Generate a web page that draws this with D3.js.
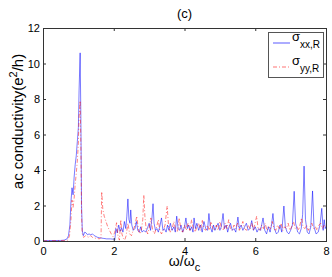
<!DOCTYPE html>
<html>
<head>
<meta charset="utf-8">
<script src="https://cdn.jsdelivr.net/npm/d3@7"></script>
<style>
body { margin: 0; background: #fff; }
svg { display: block; font-family: "Liberation Sans", Arial, sans-serif; }
.axis text { font-size: 11px; fill: #000; }
.axis line { stroke: #333; }
</style>
</head>
<body>
<div class="chart"></div>
<script>
// sigma_xx,R (blue, solid)
const omegaXX = [0, 0.5, 0.6, 0.68, 0.72, 0.76, 0.79, 0.82, 0.85, 0.88, 0.91, 0.94, 0.97, 1.0, 1.02, 1.05, 1.07, 1.09, 1.11, 1.14,
	1.18, 1.22, 1.26, 1.3, 1.35, 1.4, 1.45, 1.5, 1.55, 1.6, 1.7, 1.8, 1.9, 2.0, 2.03, 2.06, 2.1, 2.14, 2.18, 2.22,
	2.26, 2.3, 2.34, 2.37, 2.4, 2.43, 2.46, 2.48, 2.51, 2.55, 2.6, 2.64, 2.68, 2.72, 2.76, 2.8, 2.85, 2.9, 2.95, 3.0,
	3.04, 3.08, 3.11, 3.14, 3.18, 3.22, 3.26, 3.3, 3.35, 3.39, 3.43, 3.48, 3.52, 3.56, 3.6, 3.65, 3.7, 3.74, 3.78, 3.82,
	3.86, 3.9, 3.95, 4.0, 4.04, 4.08, 4.12, 4.16, 4.2, 4.24, 4.27, 4.31, 4.35, 4.4, 4.45, 4.5, 4.55, 4.6, 4.65, 4.69,
	4.73, 4.78, 4.82, 4.86, 4.9, 4.95, 5.0, 5.04, 5.09, 5.13, 5.18, 5.22, 5.26, 5.3, 5.35, 5.4, 5.45, 5.51, 5.55, 5.6,
	5.65, 5.7, 5.75, 5.8, 5.85, 5.9, 5.95, 6.0, 6.05, 6.1, 6.15, 6.22, 6.27, 6.32, 6.37, 6.42, 6.46, 6.5, 6.54, 6.6,
	6.65, 6.7, 6.75, 6.81, 6.85, 6.9, 6.95, 7.0, 7.05, 7.1, 7.14, 7.2, 7.25, 7.3, 7.34, 7.38, 7.42, 7.47, 7.52, 7.57,
	7.62, 7.66, 7.72, 7.78, 7.83, 7.88, 7.92, 7.95, 7.98, 8.0];
const sigmaXX = [0.02, 0.03, 0.05, 0.12, 0.3, 0.9, 2.2, 3.0, 2.6, 3.6, 4.3, 4.8, 5.6, 6.4, 8.5, 10.6, 7.0, 2.0, 0.6, 0.3,
	0.5, 0.45, 0.35, 0.4, 0.35, 0.4, 0.3, 0.25, 0.2, 0.18, 0.15, 0.12, 0.12, 0.1, 0.05, 0.7, 0.45, 0.9, 0.55, 0.75,
	0.5, 1.1, 0.7, 1.4, 2.37, 1.2, 1.0, 1.75, 0.9, 0.6, 0.7, 1.1, 0.6, 0.5, 0.8, 0.5, 0.6, 0.5, 0.7, 1.0,
	0.6, 1.3, 2.1, 1.0, 0.6, 0.7, 0.5, 0.8, 1.3, 0.6, 0.7, 0.5, 0.9, 0.6, 1.0, 0.6, 0.8, 0.5, 1.4, 0.7,
	0.6, 0.9, 0.5, 0.8, 1.3, 0.7, 0.9, 0.6, 0.8, 0.5, 1.3, 0.7, 1.0, 0.6, 0.9, 0.5, 1.1, 0.7, 0.6, 1.55,
	0.8, 0.5, 0.9, 0.6, 0.8, 1.0, 0.6, 0.8, 1.55, 0.7, 0.9, 0.5, 0.8, 1.0, 0.6, 0.7, 0.5, 1.35, 0.7, 0.9,
	0.6, 0.8, 1.0, 0.6, 0.7, 1.15, 0.6, 0.8, 0.5, 0.7, 0.6, 1.3, 0.6, 0.4, 0.8, 0.5, 0.9, 1.55, 0.7, 0.4,
	0.5, 0.9, 0.5, 1.97, 0.8, 0.5, 0.4, 0.6, 0.9, 2.8, 1.0, 0.5, 0.4, 0.7, 1.5, 4.22, 1.2, 0.5, 0.4, 0.8,
	2.82, 0.8, 0.4, 0.5, 0.9, 1.84, 0.6, 1.2, 0.7, 0.8];

// sigma_yy,R (red, dash-dot)
const omegaYY = [0, 0.6, 0.7, 0.75, 0.79, 0.82, 0.85, 0.88, 0.91, 0.94, 0.97, 1.0, 1.02, 1.05, 1.07, 1.09, 1.11, 1.15, 1.2, 1.25,
	1.3, 1.35, 1.4, 1.5, 1.6, 1.64, 1.66, 1.69, 1.73, 1.78, 1.83, 1.88, 1.93, 1.98, 2.03, 2.08, 2.12, 2.16, 2.2, 2.23,
	2.27, 2.31, 2.35, 2.4, 2.45, 2.5, 2.55, 2.6, 2.65, 2.7, 2.74, 2.78, 2.82, 2.85, 2.88, 2.92, 2.96, 3.0, 3.05, 3.1,
	3.15, 3.2, 3.26, 3.3, 3.35, 3.4, 3.45, 3.51, 3.55, 3.6, 3.65, 3.7, 3.75, 3.8, 3.85, 3.9, 3.95, 4.0, 4.05, 4.1,
	4.15, 4.2, 4.25, 4.3, 4.35, 4.4, 4.45, 4.5, 4.55, 4.6, 4.65, 4.7, 4.75, 4.8, 4.85, 4.9, 4.95, 5.0, 5.05, 5.1,
	5.15, 5.2, 5.25, 5.3, 5.35, 5.4, 5.45, 5.5, 5.55, 5.6, 5.65, 5.7, 5.75, 5.8, 5.85, 5.9, 5.95, 6.04, 6.08, 6.13,
	6.18, 6.23, 6.28, 6.33, 6.38, 6.43, 6.48, 6.53, 6.58, 6.63, 6.68, 6.73, 6.78, 6.83, 6.88, 6.93, 6.98, 7.03, 7.08, 7.13,
	7.18, 7.23, 7.31, 7.35, 7.4, 7.45, 7.5, 7.55, 7.6, 7.65, 7.7, 7.75, 7.8, 7.85, 7.9, 7.95, 8.0];
const sigmaYY = [0.01, 0.02, 0.05, 0.3, 1.2, 2.3, 1.9, 2.4, 3.2, 3.8, 4.5, 5.5, 7.0, 7.9, 5.5, 1.5, 0.4, 0.2, 0.3, 0.25,
	0.2, 0.3, 0.2, 0.15, 0.12, 0.2, 2.78, 1.8, 1.4, 1.1, 0.8, 0.6, 0.4, 0.25, 0.5, 1.03, 0.3, 0.05, 1.2, 0.4,
	0.15, 0.05, 0.3, 1.0, 0.4, 0.3, 0.6, 0.9, 1.4, 0.6, 0.4, 0.6, 1.2, 2.6, 1.4, 0.6, 0.4, 0.7, 1.3, 0.6,
	0.4, 0.7, 1.2, 0.6, 0.4, 0.6, 0.9, 1.97, 0.8, 0.5, 0.7, 1.1, 0.6, 0.5, 1.3, 0.6, 0.5, 0.9, 0.6, 1.0,
	0.6, 1.2, 0.7, 0.5, 0.8, 1.0, 0.6, 1.2, 0.7, 0.6, 0.9, 0.6, 1.1, 0.7, 0.6, 0.9, 0.6, 1.1, 0.7, 0.6,
	1.0, 0.7, 1.2, 0.7, 0.6, 0.9, 0.7, 1.0, 0.6, 0.8, 1.1, 0.7, 0.6, 0.9, 0.7, 1.0, 0.6, 1.4, 0.7, 0.6,
	0.9, 0.7, 1.0, 0.6, 0.8, 0.7, 1.1, 0.7, 0.6, 0.9, 0.7, 1.0, 0.6, 0.8, 0.7, 1.0, 0.6, 0.8, 1.1, 0.7,
	0.8, 0.6, 1.3, 0.8, 0.7, 0.9, 0.6, 0.8, 1.0, 0.7, 0.8, 0.6, 0.9, 1.0, 0.7, 0.9, 0.8];

const xTicks = [0, 2, 4, 6, 8];
const yTicks = [0, 2, 4, 6, 8, 10, 12];

const margin = ({top: 28, right: 6, bottom: 36, left: 43});
const width = 332 - margin.left - margin.right;
const height = 277 - margin.top - margin.bottom;

const root = d3.select('.chart').append('svg')
	.attr('width', 332)
	.attr('height', 277);

const svg = root.append('g')
	.attr('transform', 'translate(' + margin.left + ',' + margin.top + ')');

const xScale = d3.scaleLinear().domain([0, 8]).range([0, width]);
const yScale = d3.scaleLinear().domain([0, 12]).range([height, 0]);

// clip the curves to the axes box
svg.append('clipPath').attr('id', 'clip')
	.append('rect').attr('width', width).attr('height', height);

const line = d3.line()
	.x(d => xScale(d[0]))
	.y(d => yScale(d[1]));

const xxData = omegaXX.map((w, i) => [w, sigmaXX[i]]);
const yyData = omegaYY.map((w, i) => [w, sigmaYY[i]]);

svg.append('path')
	.datum(xxData)
	.attr('clip-path', 'url(#clip)')
	.attr('fill', 'none')
	.attr('stroke', '#0000ff')
	.attr('stroke-opacity', 0.65)
	.attr('stroke-width', 0.8)
	.attr('d', line);

svg.append('path')
	.datum(yyData)
	.attr('clip-path', 'url(#clip)')
	.attr('fill', 'none')
	.attr('stroke', '#ff0000')
	.attr('stroke-opacity', 0.55)
	.attr('stroke-width', 0.9)
	.attr('stroke-dasharray', '4,2,1,2')
	.attr('d', line);

// axes, ticks pointing inward like matlab
svg.append('g')
	.attr('class', 'axis x-axis')
	.attr('transform', `translate(0, ${height})`)
	.call(d3.axisBottom(xScale).tickValues(xTicks).tickSize(-3).tickPadding(6))
	.call(g => g.select('.domain').remove());

svg.append('g')
	.attr('class', 'axis')
	.call(d3.axisTop(xScale).tickValues(xTicks).tickSize(-3).tickFormat(''))
	.call(g => g.select('.domain').remove());

svg.append('g')
	.attr('class', 'axis y-axis')
	.call(d3.axisLeft(yScale).tickValues(yTicks).tickSize(-3).tickPadding(3))
	.call(g => g.select('.domain').remove());

svg.append('g')
	.attr('class', 'axis')
	.attr('transform', `translate(${width}, 0)`)
	.call(d3.axisRight(yScale).tickValues(yTicks).tickSize(-3).tickFormat(''))
	.call(g => g.select('.domain').remove());

svg.append('rect')
	.attr('x', 0.5)
	.attr('y', 0.5)
	.attr('width', width)
	.attr('height', height)
	.attr('fill', 'none')
	.attr('stroke', '#333')
	.attr('shape-rendering', 'crispEdges');

// title and axis labels
svg.append('text')
	.attr('x', width / 2)
	.attr('y', -10)
	.attr('text-anchor', 'middle')
	.attr('font-size', '13px')
	.text('(c)');

const xl = svg.append('text')
	.attr('x', width / 2)
	.attr('y', height + 25)
	.attr('text-anchor', 'middle')
	.attr('font-size', '14px');
xl.append('tspan').text('ω/ω');
xl.append('tspan').attr('font-size', '11px').attr('dy', 5).text('c');

const yl = svg.append('text')
	.attr('transform', `translate(${-20}, ${height / 2 - 13}) rotate(-90)`)
	.attr('text-anchor', 'middle')
	.attr('font-size', '15px');
yl.append('tspan').text('ac conductivity(e');
yl.append('tspan').attr('font-size', '11px').attr('dy', -6).text('2');
yl.append('tspan').attr('dy', 6).text('/h)');

// legend
const legend = root.append('g').attr('transform', 'translate(268, 32)');

legend.append('rect')
	.attr('x', 0.5)
	.attr('y', 0.5)
	.attr('width', 55)
	.attr('height', 45)
	.attr('fill', '#fff')
	.attr('stroke', '#555')
	.attr('shape-rendering', 'crispEdges');

const entries = [
	{sub: 'xx,R', color: '#0000ff', dash: null, opacity: 0.65},
	{sub: 'yy,R', color: '#ff0000', dash: '4,2,1,2', opacity: 0.55}
];

entries.forEach(function(e, i) {
	const y = 11 + i * 24;
	legend.append('line')
		.attr('x1', 5)
		.attr('x2', 22)
		.attr('y1', y)
		.attr('y2', y)
		.attr('stroke', e.color)
		.attr('stroke-opacity', e.opacity)
		.attr('stroke-dasharray', e.dash);
	const t = legend.append('text')
		.attr('x', 24)
		.attr('y', y - 2)
		.attr('font-size', '13px');
	t.append('tspan').text('σ');
	t.append('tspan').attr('font-size', '10px').attr('dy', 7).text(e.sub);
});
</script>
</body>
</html>
